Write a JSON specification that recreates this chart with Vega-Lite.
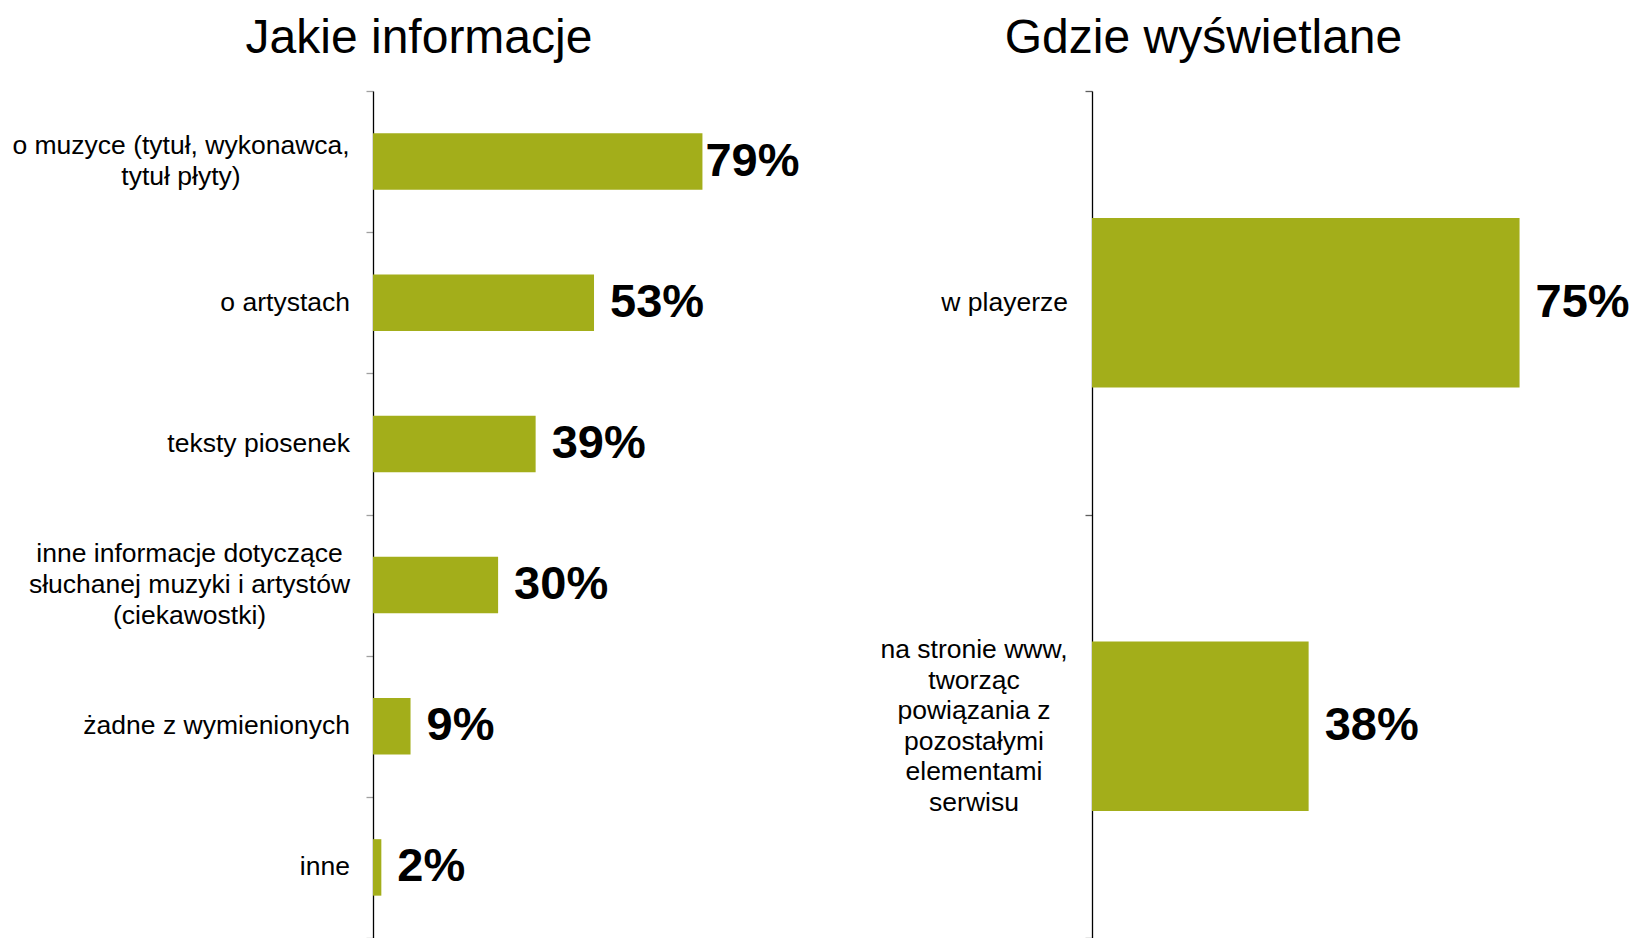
{
  "$schema": "https://vega.github.io/schema/vega-lite/v6.json",
  "background": "white",
  "padding": {"left": 0, "top": 14, "right": 0, "bottom": 0},
  "autosize": {"type": "pad"},
  "spacing": 39,
  "config": {"view": {"stroke": null}, "font": "Liberation Sans"},
  "datasets": {
    "info": [
      {"category": "o muzyce (tytuł, wykonawca, tytuł płyty)", "lines": ["o muzyce (tytuł, wykonawca,", "tytuł płyty)"], "value": 0.79},
      {"category": "o artystach", "lines": ["o artystach"], "value": 0.53},
      {"category": "teksty piosenek", "lines": ["teksty piosenek"], "value": 0.39},
      {"category": "inne informacje dotyczące słuchanej muzyki i artystów (ciekawostki)", "lines": ["inne informacje dotyczące", "słuchanej muzyki i artystów", "(ciekawostki)"], "value": 0.30},
      {"category": "żadne z wymienionych", "lines": ["żadne z wymienionych"], "value": 0.09},
      {"category": "inne", "lines": ["inne"], "value": 0.02}
    ],
    "where": [
      {"category": "w playerze", "lines": ["w playerze"], "value": 0.75},
      {"category": "na stronie www, tworząc powiązania z pozostałymi elementami serwisu", "lines": ["na stronie www,", "tworząc", "powiązania z", "pozostałymi", "elementami", "serwisu"], "value": 0.38}
    ]
  },
  "hconcat": [
    {
      "title": {"text": "Jakie informacje", "font": "Liberation Sans", "fontSize": 48, "fontWeight": "normal", "color": "#000000", "anchor": "middle", "frame": "group", "dx": -179, "offset": -10.5, "baseline": "alphabetic"},
      "width": 450,
      "height": 847,
      "data": {"name": "info"},
      "encoding": {
        "y": {
          "field": "category", "type": "nominal", "sort": null,
          "scale": {"paddingInner": 0, "paddingOuter": 0},
          "axis": {
            "title": null, "labels": false,
            "domainColor": "#000000", "domainWidth": 1.3,
            "tickColor": "#a0a0a0", "tickSize": 7, "tickWidth": 1.3, "tickBand": "extent",
            "minExtent": 373, "maxExtent": 373
          }
        },
        "x": {"field": "value", "type": "quantitative", "scale": {"domain": [0, 1.0791]}, "axis": null}
      },
      "layer": [
        {"mark": {"type": "bar", "color": "#A3AE1A", "height": {"band": 0.4}}},
        {"transform": [{"filter": "datum.value < 0.7"}],
         "mark": {"type": "text", "align": "left", "baseline": "middle", "dx": 16, "font": "Liberation Sans", "fontSize": 47, "fontWeight": "bold", "color": "#000000"},
         "encoding": {"text": {"field": "value", "type": "quantitative", "format": ".0%"}}},
        {"transform": [{"filter": "datum.value >= 0.7"}],
         "mark": {"type": "text", "align": "left", "baseline": "middle", "dx": 3, "font": "Liberation Sans", "fontSize": 47, "fontWeight": "bold", "color": "#000000"},
         "encoding": {"text": {"field": "value", "type": "quantitative", "format": ".0%"}}},
        {"transform": [{"filter": {"field": "category", "oneOf": ["o artystach", "teksty piosenek", "żadne z wymienionych", "inne"]}}],
         "mark": {"type": "text", "align": "right", "baseline": "middle", "font": "Liberation Sans", "fontSize": 26.5, "lineHeight": 31, "color": "#000000"},
         "encoding": {"x": {"datum": -0.0552, "type": "quantitative", "axis": null}, "text": {"field": "lines"}}},
        {"transform": [{"filter": {"field": "category", "equal": "o muzyce (tytuł, wykonawca, tytuł płyty)"}}],
         "mark": {"type": "text", "align": "center", "baseline": "middle", "dy": -15.5, "font": "Liberation Sans", "fontSize": 26.5, "lineHeight": 31, "color": "#000000"},
         "encoding": {"x": {"datum": -0.4604, "type": "quantitative", "axis": null}, "text": {"field": "lines"}}},
        {"transform": [{"filter": {"field": "category", "equal": "inne informacje dotyczące słuchanej muzyki i artystów (ciekawostki)"}}],
         "mark": {"type": "text", "align": "center", "baseline": "middle", "dy": -31, "font": "Liberation Sans", "fontSize": 26.5, "lineHeight": 31, "color": "#000000"},
         "encoding": {"x": {"datum": -0.4400, "type": "quantitative", "axis": null}, "text": {"field": "lines"}}}
      ]
    },
    {
      "title": {"text": "Gdzie wyświetlane", "font": "Liberation Sans", "fontSize": 48, "fontWeight": "normal", "color": "#000000", "anchor": "middle", "frame": "group", "dx": -159, "offset": -10.5, "baseline": "alphabetic"},
      "width": 541,
      "height": 847,
      "data": {"name": "where"},
      "encoding": {
        "y": {
          "field": "category", "type": "nominal", "sort": null,
          "scale": {"paddingInner": 0, "paddingOuter": 0},
          "axis": {
            "title": null, "labels": false,
            "domainColor": "#000000", "domainWidth": 1.3,
            "tickColor": "#606060", "tickSize": 7, "tickWidth": 1.3, "tickBand": "extent",
            "minExtent": 230, "maxExtent": 230
          }
        },
        "x": {"field": "value", "type": "quantitative", "scale": {"domain": [0, 0.949]}, "axis": null}
      },
      "layer": [
        {"mark": {"type": "bar", "color": "#A3AE1A", "height": {"band": 0.4}}},
        {"mark": {"type": "text", "align": "left", "baseline": "middle", "dx": 16, "font": "Liberation Sans", "fontSize": 47, "fontWeight": "bold", "color": "#000000"},
         "encoding": {"text": {"field": "value", "type": "quantitative", "format": ".0%"}}},
        {"transform": [{"filter": {"field": "category", "equal": "w playerze"}}],
         "mark": {"type": "text", "align": "right", "baseline": "middle", "font": "Liberation Sans", "fontSize": 26.5, "lineHeight": 30.5, "color": "#000000"},
         "encoding": {"x": {"datum": -0.0421, "type": "quantitative", "axis": null}, "text": {"field": "lines"}}},
        {"transform": [{"filter": {"field": "category", "equal": "na stronie www, tworząc powiązania z pozostałymi elementami serwisu"}}],
         "mark": {"type": "text", "align": "center", "baseline": "middle", "dy": -76, "font": "Liberation Sans", "fontSize": 26.5, "lineHeight": 30.5, "color": "#000000"},
         "encoding": {"x": {"datum": -0.2070, "type": "quantitative", "axis": null}, "text": {"field": "lines"}}}
      ]
    }
  ]
}
